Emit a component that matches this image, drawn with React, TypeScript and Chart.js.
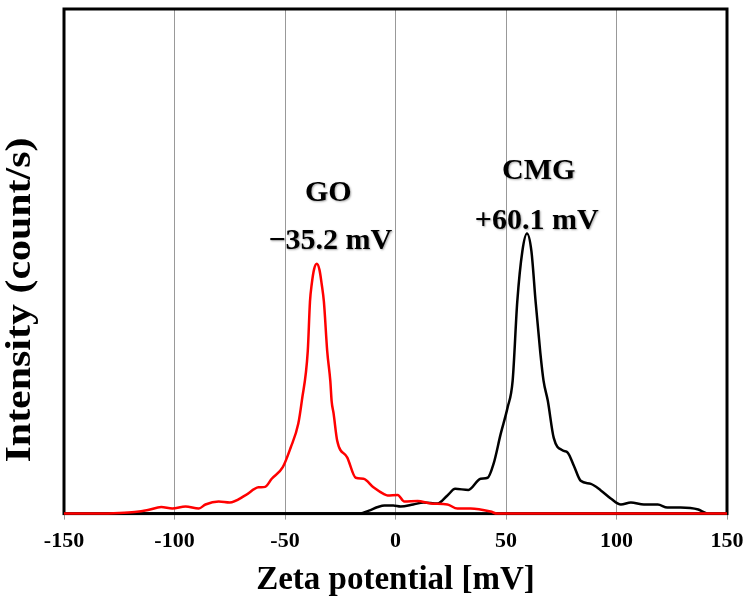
import React, { useEffect, useRef } from 'react';
import { Chart, registerables } from 'chart.js';

Chart.register(...registerables);

// GO (red) zeta potential distribution
const goX = [-150, -135, -125, -118, -112, -106, -101, -95, -89, -86, -80, -75, -68, -62, -59, -56, -51, -47.5, -44, -42.4, -39.7, -38.7, -37.9, -36.8, -35.6, -34.4, -33.4, -32.4, -30.9, -29.5, -28.9, -28, -26.4, -21.8, -18, -14.5, -10, -5, -3.6, 1, 4, 10, 15.9, 23.5, 28, 34, 43, 46, 150];
const goY = [0, 0, 0.1, 0.3, 0.7, 1.3, 1.0, 1.4, 1.0, 1.8, 2.4, 2.2, 3.6, 5.2, 5.3, 6.9, 9.2, 13, 17.8, 22.3, 32.2, 42, 45.5, 48.5, 49.5, 48.3, 45.5, 42, 32.2, 26.3, 22.3, 19.8, 14.5, 11.1, 7.1, 6.9, 5.2, 3.8, 3.6, 3.7, 2.4, 2.5, 2.0, 1.8, 1.0, 1.0, 0.4, 0, 0];

// CMG (black) zeta potential distribution
const cmgX = [-120, -16, -12, -8, -5, -1, 2.3, 8, 12.7, 19, 23.5, 27, 33, 38.5, 41.7, 44.4, 47.6, 50.7, 53, 55.1, 57.4, 59.5, 61.5, 63.4, 65.5, 67, 68.9, 71.6, 75.7, 77.9, 80.7, 83.8, 88.4, 92.9, 97.4, 102, 106.5, 112.4, 118.7, 123, 129, 137, 139, 141];
const cmgY = [0, 0, 0.6, 1.3, 1.6, 1.6, 1.4, 1.8, 2.2, 2.0, 3.6, 4.9, 4.7, 6.9, 7.1, 9.9, 15.8, 21, 26.3, 42, 52, 55.5, 52, 42, 32, 26.3, 22.4, 15, 12.5, 12.1, 9.5, 6.5, 5.9, 4.6, 3.0, 1.8, 2.2, 1.8, 1.8, 1.2, 1.2, 0.8, 0.4, 0];

const xMin = -150;
const xMax = 150;
const xStep = 50;

const annotationTexts = ['GO', '\u221235.2 mV', 'CMG', '+60.1 mV'];
const annotationX = [-30.4, -29.5, 64.8, 63.9];
const annotationY = [62, 52.5, 66.4, 56.5];

const yTitle = 'Intensity (count/s)';
const xTitle = 'Zeta potential [mV]';

const SERIF = '"Liberation Serif", "Times New Roman", serif';

const framePlugin = {
  id: 'frame',
  beforeDatasetsDraw(chart: any) {
    const { ctx, chartArea } = chart;
    ctx.save();
    ctx.strokeStyle = '#000';
    ctx.lineWidth = 3;
    ctx.strokeRect(chartArea.left, chartArea.top, chartArea.right - chartArea.left, chartArea.bottom - chartArea.top);
    ctx.restore();
  },
};

const textPlugin = {
  id: 'texts',
  afterDraw(chart: any) {
    const { ctx, scales } = chart;
    ctx.save();
    ctx.fillStyle = '#000';
    ctx.font = `bold 30px ${SERIF}`;
    ctx.textAlign = 'center';
    ctx.textBaseline = 'alphabetic';
    ctx.shadowColor = 'rgba(0,0,0,0.35)';
    ctx.shadowBlur = 2;
    ctx.shadowOffsetX = 1;
    ctx.shadowOffsetY = 1;
    annotationTexts.forEach((t, i) => {
      ctx.fillText(t, scales.x.getPixelForValue(annotationX[i]), scales.y.getPixelForValue(annotationY[i]));
    });
    ctx.restore();

    // y-axis title (stretched like in the reference)
    ctx.save();
    ctx.fillStyle = '#000';
    ctx.font = `bold 35px ${SERIF}`;
    const w = ctx.measureText(yTitle).width;
    const target = 325;
    ctx.translate(30, 300);
    ctx.rotate(-Math.PI / 2);
    ctx.scale(target / w, 1);
    ctx.textAlign = 'center';
    ctx.textBaseline = 'alphabetic';
    ctx.fillText(yTitle, 0, 0);
    ctx.restore();
  },
};

export default function App() {
  const ref = useRef<HTMLCanvasElement>(null);
  useEffect(() => {
    document.body.style.margin = '0';
    const chart = new Chart(ref.current as HTMLCanvasElement, {
      type: 'line',
      data: {
        datasets: [
          {
            label: 'GO',
            data: goX.map((x, i) => ({ x, y: goY[i] })),
            borderColor: '#ff0000',
            borderWidth: 2.5,
            pointRadius: 0,
            cubicInterpolationMode: 'monotone',
            clip: false,
            order: 0,
          } as any,
          {
            label: 'CMG',
            data: cmgX.map((x, i) => ({ x, y: cmgY[i] })),
            borderColor: '#000000',
            borderWidth: 2.5,
            pointRadius: 0,
            cubicInterpolationMode: 'monotone',
            clip: false,
            order: 1,
          } as any,
        ],
      },
      options: {
        animation: false,
        responsive: false,
        devicePixelRatio: 1,
        layout: { padding: { left: 64, top: 9, right: 21, bottom: 0 } },
        plugins: { legend: { display: false }, tooltip: { enabled: false } },
        scales: {
          x: {
            type: 'linear',
            min: xMin,
            max: xMax,
            afterFit(scale: any) {
              scale.paddingLeft = 0;
              scale.paddingRight = 0;
            },
            ticks: {
              stepSize: xStep,
              color: '#000',
              padding: 9,
              font: { family: SERIF, size: 22, weight: 'bold' },
            },
            grid: { color: '#999', lineWidth: 1, tickLength: 6, tickColor: '#999' },
            border: { display: false },
            title: {
              display: true,
              text: xTitle,
              color: '#000',
              font: { family: SERIF, size: 33, weight: 'bold', lineHeight: 1 },
              padding: { top: 0, bottom: 6 },
            },
          },
          y: { display: false, min: 0, max: 100 },
        },
      } as any,
      plugins: [framePlugin, textPlugin],
    });
    return () => chart.destroy();
  }, []);
  return <canvas ref={ref} width={748} height={603} style={{ display: 'block' }} />;
}
